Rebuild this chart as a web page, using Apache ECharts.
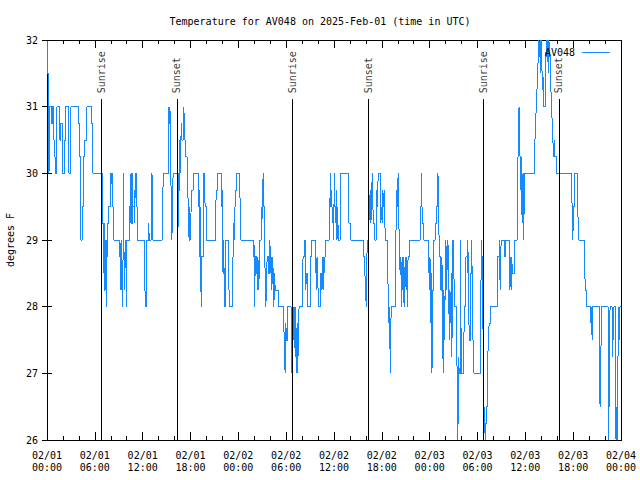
<!DOCTYPE html>
<html><head><meta charset="utf-8">
<script src="https://cdn.jsdelivr.net/npm/echarts@6/dist/echarts.min.js"></script>
<style>html,body{margin:0;padding:0;background:#fff}#c{width:640px;height:480px}#c svg path{shape-rendering:crispEdges}</style>
</head><body><div id="c"></div>
<script>
// [hours since 2025-02-01 00:00 UTC, temperature degF held from that time]
const readingsDay1 = [
[0,32],[0.08,31.5],[0.17,30.5],[0.25,30],[0.33,31],[0.58,30.75],[0.67,31],[0.83,30.5],[1.0,30.25],[1.08,30],[1.25,31],[1.58,30.5],[1.75,30.75],[1.92,30],[2.17,30.5],[2.33,31],[2.67,30.5],[2.75,30],[2.92,30.75],[3.0,31],[3.92,30.75],[4.08,30.25],[4.17,29.5],[4.25,29],[4.42,29.5],[4.58,30.25],[4.75,30.5],[5.0,31],[5.58,30.75],[5.75,30],
[6.92,29.25],[7.04,28.5],[7.12,29.25],[7.21,28.25],[7.33,29],[7.42,28],[7.5,28.75],[7.62,29.25],[7.75,29.5],[7.92,30],[8.0,29.75],[8.08,30],[8.17,29.5],[8.29,29.25],[8.37,29],[9.12,28.75],[9.21,28.25],[9.29,29],[9.37,28.25],[9.46,28],[9.54,28.75],[9.62,30],[9.67,28.5],[9.75,28.25],[9.83,29],[9.92,28],[10.0,28.75],[10.04,29],[10.37,29.5],[10.46,29.25],[10.54,30],[10.62,29.25],[10.71,30],[10.79,29.5],[10.92,29.75],[11.0,29.25],[11.08,30],[11.2,29.5],[11.29,29],
[12.2,28.75],[12.29,28.25],[12.37,28],[12.46,28.5],[12.54,29],[12.75,29.25],[12.83,29],[13.08,29.5],[13.17,30],[13.25,29],[14.46,29.25],[14.54,29.75],[14.62,30],[15.2,30.5],[15.25,31],[15.33,30.75],[15.42,31],[15.5,30.5],[15.58,29.5],[15.67,29],[15.75,29.75],[15.83,30],[16.33,29.5],[16.42,29],[16.5,30],[16.58,29.75],[16.67,30.5],[16.75,30],[16.83,30.75],[16.92,30.5],[17.08,30.75],[17.17,31],[17.25,30.5],[17.42,30.25],[17.58,30],[17.67,29.75],[17.75,29.25],[17.83,29],[17.92,29.5],[18.0,29],[18.08,29.5],[18.17,29.75],[18.33,30],
[19.0,29.5],[19.08,29.75],[19.17,28.75],[19.25,29.5],[19.33,28],[19.42,28.75],[19.58,30],[19.67,29.5],[19.75,30],[19.83,29.5],[20.0,29],[21.17,29.5],[21.25,29.75],[21.42,30],[21.92,29.5],[22.0,29.75],[22.08,28.5],[22.17,29],[22.25,28],[22.42,29],[22.75,28.75],[22.83,28.25],[22.92,28],[23.25,28.5],[23.33,28.75],[23.42,29.25],[23.5,29],[23.58,29.5],[23.67,29.75],[23.83,30]
];
const readingsDay2 = [
[24.17,29.75],[24.25,29.5],[24.33,29],[25.875,28.75],[25.96,29],[26.04,28],[26.125,28.75],[26.29,28.5],[26.38,28.25],[26.46,28.75],[26.54,28.25],[26.625,28.5],[26.71,29],[26.875,29.5],[26.96,29.25],[27.04,29.75],[27.125,30],[27.2,29.5],[27.29,28.75],[27.375,28.5],[27.46,28],[27.54,28.5],[27.625,28.75],[27.79,28.5],[27.96,29],[28.04,28.5],[28.125,28.75],[28.21,28.25],[28.29,28.75],[28.375,28.5],[28.46,28],[28.54,28.5],[28.625,28.25],[29.04,28],
[29.71,27.75],[29.79,27.25],[29.875,27],[29.96,27.75],[30.04,27.5],[30.21,28],[30.625,27],[30.67,28],[30.71,27.25],[30.79,27],[30.875,28],[30.96,27.5],[31.04,28],[31.125,27.25],[31.21,28],[31.29,27],[31.375,27.75],[31.46,27],[31.54,27.75],[31.625,28],[32.04,28.5],[32.125,28.75],[32.25,29],[32.46,28.25],[32.54,28.5],[32.67,28],[33.08,28.75],[33.21,29],[33.625,28.5],[33.71,28.75],[33.79,28.25],[33.875,28.75],[33.96,28.5],[34.04,28],
[34.33,28.5],[34.46,28.25],[34.54,28.75],[34.625,28.25],[34.71,28.75],[34.79,28.5],[34.875,28.75],[34.96,29],[35.375,29.5],[35.46,29.25],[35.54,30],[35.625,29.5],[35.71,29.75],[35.79,29.25],[35.875,29.5],[35.96,29],[36.04,30],[36.125,29.5],[36.21,29.25],[36.29,29.75],[36.375,29],[36.46,29.5],[36.54,29],[36.79,30],[37.79,29.5],[37.875,29.25],[38.08,29],
[39.75,28.75],[39.875,28.5],[39.96,28.25],[40.04,28],[40.125,28.75],[40.2,29],[40.375,29.25],[40.46,29.5],[40.54,29.75],[40.625,29.25],[40.71,29.5],[40.79,30],[40.875,29.5],[40.96,29.25],[41.125,29],[41.29,29.5],[41.375,29.75],[41.46,29.5],[41.54,30],[41.79,29.75],[41.875,29.25],[41.96,29.5],[42.04,29.25],[42.125,29.75],[42.21,29.5],[42.29,29.75],[42.375,29.25],[42.46,29],
[42.71,28.75],[42.79,28.25],[42.875,27.75],[42.96,28],[43.04,27.25],[43.08,27],[43.125,27.75],[43.21,28],[43.71,28.5],[43.79,29.25],[43.875,29.75],[43.96,29.5],[44.04,30],[44.125,29.25],[44.21,29],[44.29,28.5],[44.375,28.75],[44.46,28],[44.54,28.75],[44.625,28.25],[44.71,28.75],[44.79,28],[44.875,28.5],[44.96,28.75],[45.04,28.25],[45.125,28.75],[45.21,28],[45.29,28.75],[45.46,29],
[46.83,29.5],[46.92,29.75],[47.0,30],[47.04,29.5],[47.125,29.25],[47.25,29]
];
const readingsDay3 = [
[47.875,28.75],[47.96,28.25],[48.04,28.75],[48.125,27.75],[48.21,28.5],[48.29,27],[48.375,28.25],[48.54,29],[48.71,29.25],[48.875,29.5],[49.0,29.75],[49.04,30],[49.125,29.5],[49.21,28.75],[49.375,28.25],[49.54,28.75],[49.625,27.5],[49.71,27],[49.79,28.25],[49.875,27.5],[49.96,28.5],[50.04,29],[50.125,28.25],[50.21,28.75],[50.29,29],[50.375,28.5],[50.46,27.5],[50.54,28.25],[50.625,27.75],[50.71,28.5],[50.79,27.25],[50.875,29],[51.04,28.5],[51.125,28],
[51.375,27.75],[51.46,26.75],[51.54,26],[51.625,27.25],[51.71,27],[51.875,29],[51.96,27],[52.29,27.5],[52.375,28],[52.54,28.75],[52.71,28.5],[52.79,29],[52.875,28.25],[52.96,27.5],[53.125,28.5],[53.29,29],[53.375,27.5],[53.54,27],[54.375,28],[54.46,28.5],[54.54,29],[54.625,28.25],[54.71,27.5],[54.79,26],[54.875,26.5],[54.96,26],[55.04,26.25],[55.17,26.5],[55.29,27.25],[55.375,27.5],[55.46,27.75],[55.625,28],
[56.54,28.75],[56.71,29],[56.79,28.5],[56.875,28.25],[56.96,29],[57.375,28.75],[57.54,29],[57.96,28.75],[58.04,28.25],[58.125,28.75],[58.21,28.25],[58.29,28.75],[58.375,28.5],[58.625,29],[58.96,29.5],[59.04,30],[59.125,30.5],[59.21,31],[59.29,30.75],[59.375,29.75],[59.46,30.25],[59.54,29.5],[59.625,29.25],[59.71,30],[59.79,29],[59.875,29.75],[59.96,30],
[61.125,30.25],[61.21,30.5],[61.29,30.75],[61.375,31],[61.46,31.25],[61.54,31.5],[61.625,31.75],[61.71,32],[61.79,31.75],[61.875,32],[61.96,31.5],[62.04,32],[62.125,31.25],[62.21,31.5],[62.29,31],[62.54,31.5],[62.625,32],[62.71,31.75],[62.79,32],[62.875,31.5],[62.96,32],[63.04,31.75],[63.21,31.25],[63.29,31],[63.375,30.75],[63.46,30.5],[63.54,30.25],[63.625,30.5],[63.71,30.25],[63.875,30],
[65.79,29.75],[65.875,29.5],[65.96,29],[66.04,29.5],[66.21,30],[66.54,29.75],[66.625,29.25],[66.71,29],[67.375,28.75],[67.46,28.5],[67.54,28.25],[67.71,28],[68.21,27.75],[68.29,28],[68.375,27.5],[68.46,28],[69.29,27],[69.375,26.5],[69.46,27],[69.54,28],[70.375,26],[70.46,27],[70.54,26.5],[70.625,28],[70.875,27.25],[70.96,28],[71.04,27.5],[71.125,28],[71.29,27],[71.375,26],[71.46,26.5],[71.54,26],[71.625,27.25],[71.71,28],[71.79,27.5],[71.875,28],[72,28]
];
const sunLabels = ['Sunrise','Sunset','Sunrise','Sunset','Sunrise','Sunset'];
const sunHours = [6.8, 16.3, 30.8, 40.35, 54.7, 64.2];
const yTicks = [26,27,28,29,30,31,32];
const xTickStepHours = 6;

const FONT = 'DejaVu Sans Mono';
const allReadings = readingsDay1.concat(readingsDay2, readingsDay3);
const series = [{
  name: 'AV048', type: 'line', step: 'end', symbol: 'none', showSymbol: false,
  data: allReadings,
  lineStyle: {color: '#1589ff', width: 1}, itemStyle: {color: '#1589ff'},
  clip: true, z: 3
}, {
  name: 'sun', type: 'line', data: [], symbol: 'none', silent: true,
  markLine: {
    symbol: 'none', silent: true, animation: false,
    lineStyle: {color: '#000', width: 1, type: 'solid'},
    label: {show: false},
    data: sunHours.map(h => [{coord: [h, 26]}, {coord: [h, 31.12]}])
  }
}, {
  name: 'sunlabels', type: 'scatter', symbolSize: 0, silent: true,
  data: sunHours.map((h, i) => ({value: [h, 31.2], name: sunLabels[i]})),
  label: {show: true, formatter: p => p.name, position: 'inside', rotate: 90,
    align: 'left', verticalAlign: 'middle', color: '#000',
    fontFamily: FONT, fontSize: 10}
}];

const fmtX = v => {
  const d = Math.floor(v / 24) + 1;
  const hh = v % 24;
  return '02/' + String(d).padStart(2, '0') + '\n' + String(hh).padStart(2, '0') + ':00';
};

const chart = echarts.init(document.getElementById('c'), null, {renderer: 'svg'});
chart.setOption({
  animation: false,
  backgroundColor: '#fff',
  title: {text: 'Temperature for AV048 on 2025-Feb-01 (time in UTC)', left: 'center', top: 11,
    textStyle: {fontFamily: FONT, fontSize: 10, fontWeight: 'normal', color: '#000'}},
  legend: {data: ['AV048'], right: 25, top: 42, align: 'right', itemWidth: 28, itemHeight: 10, itemGap: 0,
    textStyle: {fontFamily: FONT, fontSize: 10, color: '#000', padding: [0, 2, 0, 0]},
    icon: 'path://M0,5 L28,5 L28,6 L0,6 Z'},
  grid: {left: 47, right: 19, top: 40, bottom: 40, show: true, borderColor: '#000', borderWidth: 1,
    containLabel: false, outerBoundsMode: 'none'},
  xAxis: [{
    type: 'value', min: 0, max: 72, interval: xTickStepHours,
    axisLine: {show: false},
    axisTick: {inside: true, length: 8, lineStyle: {color: '#000'}},
    minorTick: {show: true, splitNumber: 3, length: 4, lineStyle: {color: '#000'}},
    splitLine: {show: false},
    axisLabel: {formatter: fmtX, fontFamily: FONT, fontSize: 10, color: '#000', margin: 9, lineHeight: 12}
  }, {
    type: 'value', position: 'top', min: 0, max: 72, interval: xTickStepHours,
    axisLine: {show: false},
    axisTick: {inside: true, length: 8, lineStyle: {color: '#000'}},
    minorTick: {show: true, splitNumber: 3, length: 4, lineStyle: {color: '#000'}},
    splitLine: {show: false}, axisLabel: {show: false}
  }],
  yAxis: [{
    type: 'value', min: yTicks[0], max: yTicks[yTicks.length - 1], interval: 1,
    name: 'degrees F', nameLocation: 'middle', nameGap: 32, nameRotate: 90,
    nameTextStyle: {fontFamily: FONT, fontSize: 10, color: '#000'},
    axisLine: {show: false},
    axisTick: {inside: true, length: 5, lineStyle: {color: '#000'}},
    splitLine: {show: false},
    axisLabel: {fontFamily: FONT, fontSize: 10, color: '#000', margin: 9}
  }, {
    type: 'value', position: 'right', min: yTicks[0], max: yTicks[yTicks.length - 1], interval: 1,
    axisLine: {show: false},
    axisTick: {inside: true, length: 5, lineStyle: {color: '#000'}},
    splitLine: {show: false}, axisLabel: {show: false}
  }],
  series: series
});
</script></body></html>
